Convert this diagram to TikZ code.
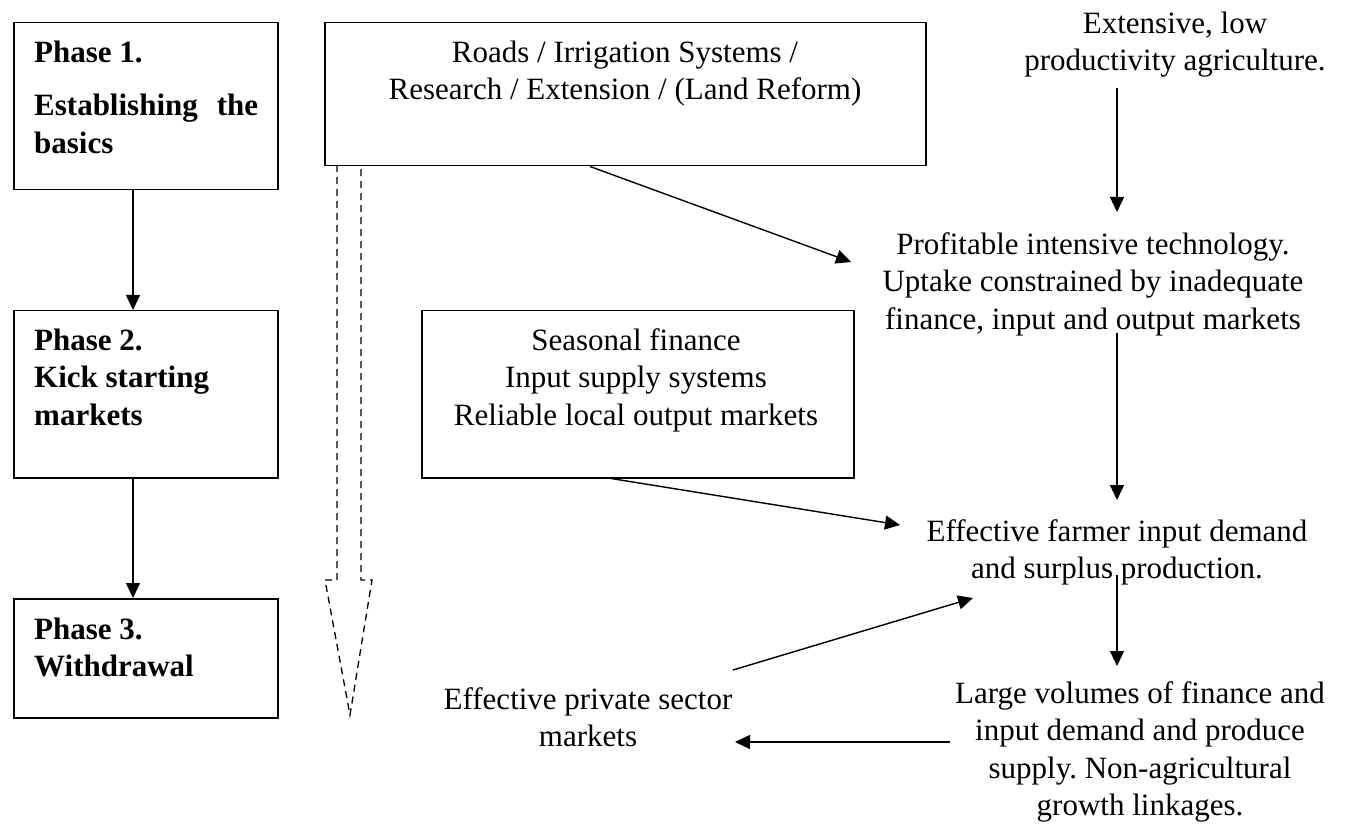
\documentclass[tikz,border=0pt]{standalone}
\usepackage{fontspec}
\setmainfont{Liberation Serif}
\usetikzlibrary{arrows.meta,calc}
\frenchspacing
\begin{document}
\begin{tikzpicture}[x=1pt,y=-1pt,
  box/.style={draw,line width=1.5pt,inner sep=0pt,anchor=north west},
  lbl/.style={inner sep=0pt,anchor=north,align=center,font=\fontsize{31}{37.5}\selectfont},
  bl/.style={inner sep=0pt,anchor=north west,align=left,font=\fontsize{31}{37.5}\selectfont\bfseries},
  arr/.style={line width=1.4pt,-{Triangle[length=15pt,width=14pt]}},
  dsh/.style={line width=1.3pt,dash pattern=on 7pt off 5pt}]
\useasboundingbox[fill=white] (0,0) rectangle (1345,826);
% boxes
\node[box,minimum width=264pt,minimum height=167pt] (p1) at (13,22) {};
\node[box,minimum width=264pt,minimum height=167pt] (p2) at (13,310) {};
\node[box,minimum width=264pt,minimum height=119pt] (p3) at (13,598) {};
\node[box,minimum width=601pt,minimum height=143pt] (roads) at (324,22) {};
\node[box,minimum width=432pt,minimum height=167pt] (seas) at (421,310) {};
% box texts
\node[bl] (t1) at (34,38) {\rule{0pt}{24pt}Phase 1.\\[16pt]\makebox[224pt][s]{Establishing the}\\basics};
\node[bl] (t2) at (34,326) {\rule{0pt}{24pt}Phase 2.\\Kick starting\\markets};
\node[bl] (t3) at (34,615) {\rule{0pt}{24pt}Phase 3.\\Withdrawal};
\node[lbl] (troads) at (625,38) {\rule{0pt}{24pt}Roads / Irrigation Systems /\\Research / Extension / (Land Reform)};
\node[lbl] (tseas) at (636,326) {\rule{0pt}{24pt}Seasonal finance\\Input supply systems\\Reliable local output markets};
% free texts
\node[lbl] (ext) at (1175,9) {\rule{0pt}{24pt}Extensive, low\\productivity agriculture.};
\node[lbl] (prof) at (1093,230) {\rule{0pt}{24pt}Profitable intensive technology.\\Uptake constrained by inadequate\\finance, input and output markets};
\node[lbl] (farm) at (1117,517) {\rule{0pt}{24pt}Effective farmer input demand\\and surplus production.};
\node[lbl] (priv) at (588,685) {\rule{0pt}{24pt}Effective private sector\\markets};
\node[lbl] (large) at (1140,679) {\rule{0pt}{24pt}Large volumes of finance and\\input demand and produce\\supply. Non-agricultural\\growth linkages.};
% connector ends
\coordinate (ax) at (133,0);
\coordinate (extout) at (1117,88);
\coordinate (profin) at (1117,212);
\coordinate (profin2) at (851,262);
\coordinate (profout) at (1117,333);
\coordinate (farmin) at (1117,500);
\coordinate (farmin2) at (900,525);
\coordinate (farmin3) at (973,598);
\coordinate (farmout) at (1117,575);
\coordinate (largein) at (1117,666);
\coordinate (largeout) at (950,742);
\coordinate (privin) at (735,742);
\coordinate (privout) at (733,670);
% connectors
\draw[arr] (p1.south -| ax) -- (p2.north -| ax);
\draw[arr] (p2.south -| ax) -- (p3.north -| ax);
\draw[arr] ($(roads.south west)+(266,0)$) -- (profin2);
\draw[arr] (extout) -- (profin);
\draw[arr] (profout) -- (farmin);
\draw[arr] ($(seas.south west)+(190,0)$) -- (farmin2);
\draw[arr] (farmout) -- (largein);
\draw[arr] (privout) -- (farmin3);
\draw[arr] (largeout) -- (privin);
% dashed block arrow
\draw[dsh] (337,165) -- (337,580) -- (325,580) -- (350,715) -- (372,580) -- (361,580) -- (361,165);
\end{tikzpicture}
\end{document}
